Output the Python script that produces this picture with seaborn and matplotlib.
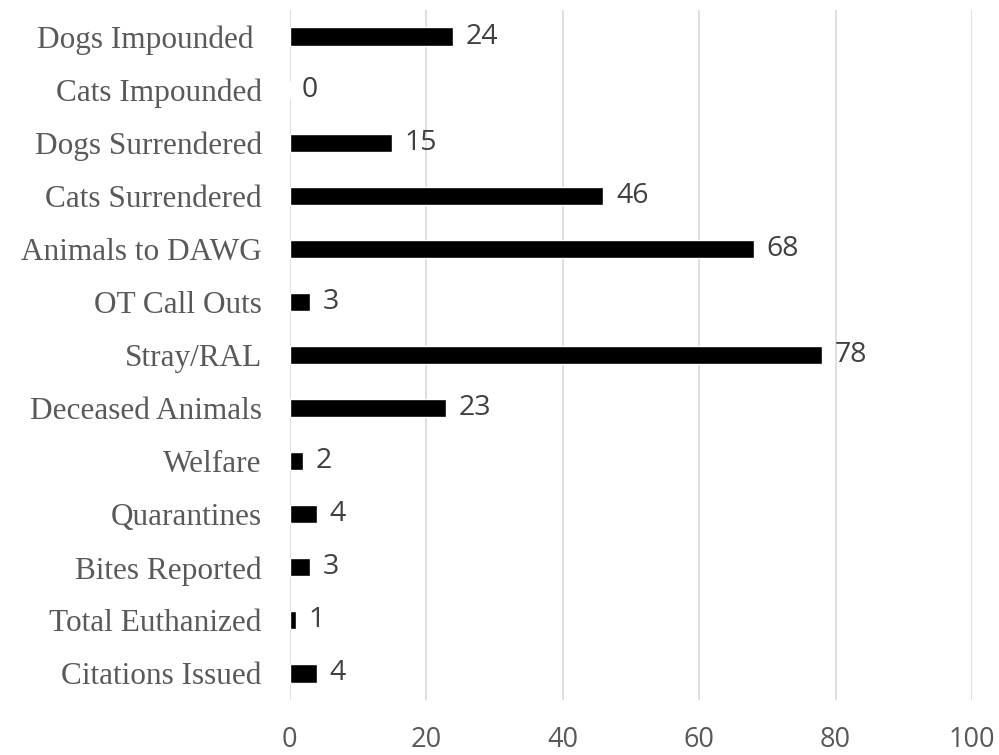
import matplotlib
matplotlib.use("Agg")
import matplotlib.pyplot as plt
import seaborn as sns
import pandas as pd

categories = ["Dogs Impounded ", "Cats Impounded", "Dogs Surrendered", "Cats Surrendered",
              "Animals to DAWG", "OT Call Outs", "Stray/RAL", "Deceased Animals", "Welfare",
              "Quarantines", "Bites Reported", "Total Euthanized", "Citations Issued"]
counts = [24, 0, 15, 46, 68, 3, 78, 23, 2, 4, 3, 1, 4]
xticks = [0, 20, 40, 60, 80, 100]

df = pd.DataFrame({"category": categories, "count": counts})

sns.set_theme(style="white")
text_grey = "#595959"

fig = plt.figure(figsize=(9.99, 7.55), dpi=100)
ax = fig.add_axes([0.2898, 0.0728, 0.6832, 0.914])

sns.barplot(data=df, y="category", x="count", color="black", width=0.34,
            saturation=1, ax=ax, orient="h")

ax.set_xlim(0, 100)
ax.set_xticks(xticks)
ax.set_ylim(len(categories) - 0.5, -0.5)
ax.set_xlabel("")
ax.set_ylabel("")

# vertical gridlines only, excel-like
ax.grid(axis="x", color="#d9d9d9", linewidth=1.2)
ax.set_axisbelow(True)
for s in ax.spines.values():
    s.set_visible(False)

ax.tick_params(axis="x", length=0, pad=19, labelsize=19.5, labelcolor=text_grey)
ax.tick_params(axis="y", length=0, pad=20, labelsize=22.5, labelcolor=text_grey)
for lab in ax.get_xticklabels():
    lab.set_fontfamily(["Open Sans", "DejaVu Sans"])
for lab in ax.get_yticklabels():
    lab.set_fontfamily(["Liberation Serif", "DejaVu Serif"])

for cont in ax.containers:
    labels = ax.bar_label(cont, labels=[str(v) for v in counts], padding=9,
                          fontsize=20.5, color="#404040")
    for t in labels:
        t.set_fontfamily(["Open Sans", "DejaVu Sans"])

fig.savefig("out.png", dpi=100)
